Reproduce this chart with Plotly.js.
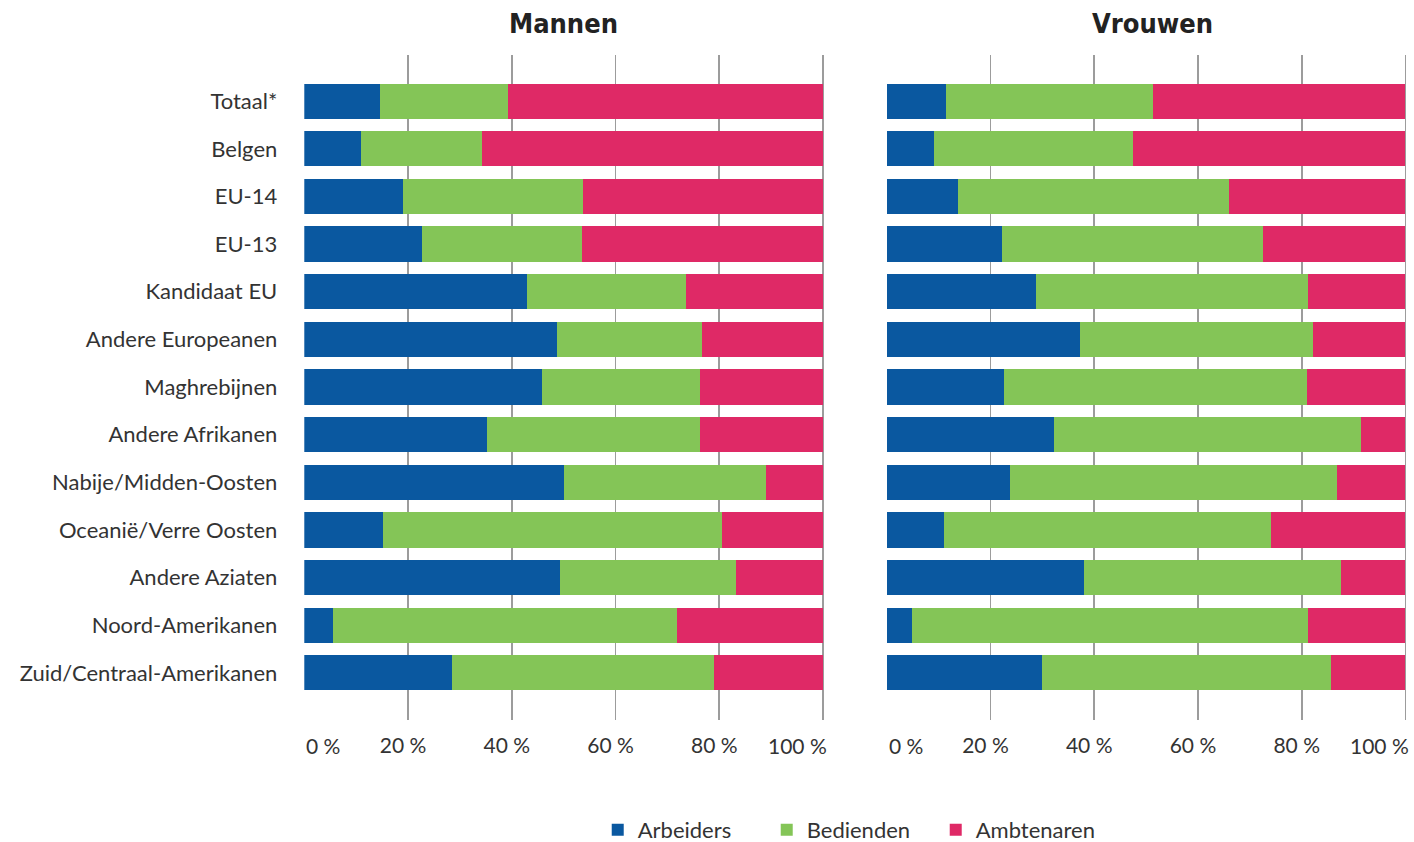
<!DOCTYPE html>
<html>
<head>
<meta charset="utf-8">
<script src="https://cdn.plot.ly/plotly-3.0.1.min.js"></script>
<style>html,body{margin:0;padding:0;background:#fff;}#chart{width:1414px;height:842px;}</style>
</head>
<body>
<div id="chart"></div>
<script>
const categories = ["Totaal*","Belgen","EU-14","EU-13","Kandidaat EU","Andere Europeanen","Maghrebijnen","Andere Afrikanen","Nabije/Midden-Oosten","Oceanië/Verre Oosten","Andere Aziaten","Noord-Amerikanen","Zuid/Centraal-Amerikanen"];
const seriesNames = ["Arbeiders","Bedienden","Ambtenaren"];

const mannenArbeiders  = [14.5, 11.0, 19.1, 22.6, 43.0, 48.8, 45.8, 35.3, 50.0, 15.2, 49.2, 5.6, 28.4];
const mannenBedienden  = [24.7, 23.2, 34.7, 30.9, 30.6, 27.8, 30.4, 40.9, 39.0, 65.3, 34.0, 66.3, 50.5];
const mannenAmbtenaren = [60.8, 65.8, 46.2, 46.5, 26.4, 23.4, 23.8, 23.8, 11.0, 19.5, 16.8, 28.1, 21.1];

const vrouwenArbeiders  = [11.5, 9.2, 13.8, 22.3, 28.8, 37.3, 22.7, 32.3, 23.8, 11.1, 38.1, 4.9, 30.0];
const vrouwenBedienden  = [39.8, 38.2, 52.1, 50.2, 52.5, 44.9, 58.3, 59.1, 63.0, 63.0, 49.4, 76.4, 55.6];
const vrouwenAmbtenaren = [48.7, 52.6, 34.1, 27.5, 18.7, 17.8, 19.0, 8.6, 13.2, 25.9, 12.5, 18.7, 14.4];

const tickVals = [0, 20, 40, 60, 80, 100];
const tickText = ["0 %", "20 %", "40 %", "60 %", "80 %", "100 %"];
const colors = ["#0A58A0", "#84C557", "#DF2966"];

const mannen = [mannenArbeiders, mannenBedienden, mannenAmbtenaren];
const vrouwen = [vrouwenArbeiders, vrouwenBedienden, vrouwenAmbtenaren];

const traces = [];
seriesNames.forEach((name, i) => {
  traces.push({
    type: 'bar', orientation: 'h', name: name, legendgroup: name,
    x: mannen[i], y: categories, xaxis: 'x', yaxis: 'y',
    marker: {color: colors[i], line: {width: 0}},
    hoverinfo: 'x+y+name', showlegend: true
  });
});
seriesNames.forEach((name, i) => {
  traces.push({
    type: 'bar', orientation: 'h', name: name, legendgroup: name,
    x: vrouwen[i], y: categories, xaxis: 'x2', yaxis: 'y2',
    marker: {color: colors[i], line: {width: 0}},
    hoverinfo: 'x+y+name', showlegend: false
  });
});

const baseFont = "Lato, 'Open Sans', 'DejaVu Sans', sans-serif";
const tickFont = {family: baseFont, size: 21, color: '#333333'};
// inner tick labels drawn by the axis; the two end labels are aligned to the panel edges
const innerText = tickText.map((t, i) => (i === 0 || i === tickText.length - 1) ? '' : t);
const xCommon = {
  range: [0, 100.5], tickvals: tickVals, ticktext: innerText,
  showgrid: true, gridcolor: '#9c9c9c', gridwidth: 1.6,
  zeroline: false, showline: false, ticks: '', fixedrange: true,
  tickfont: tickFont,
  ticklabelshift: -5, ticklabelstandoff: 11, ticklabeloverflow: 'allow',
  automargin: false
};
const yRange = [12.99, -0.97];
const labelY = 1 - 745 / 842;

const endLabels = [];
['x', 'x2'].forEach(ax => {
  endLabels.push({text: tickText[0], xref: ax, yref: 'paper', x: tickVals[0], y: labelY,
    xanchor: 'left', yanchor: 'middle', showarrow: false, font: tickFont});
  endLabels.push({text: tickText[tickText.length - 1], xref: ax, yref: 'paper',
    x: tickVals[tickVals.length - 1], y: labelY, xshift: 6,
    xanchor: 'right', yanchor: 'middle', showarrow: false, font: tickFont});
});

const titleFont = {family: "'Liberation Sans Narrow', 'DejaVu Sans Condensed', 'Open Sans', sans-serif", size: 27, color: '#222222'};

const layout = {
  width: 1414, height: 842,
  margin: {l: 0, r: 0, t: 0, b: 0, autoexpand: false},
  paper_bgcolor: '#ffffff', plot_bgcolor: '#ffffff',
  barmode: 'stack', bargap: 0.26,
  showlegend: true,
  legend: {
    orientation: 'h', x: 0.602, xanchor: 'center', y: 0.0143, yanchor: 'middle',
    font: {family: baseFont, size: 22, color: '#333333'},
    itemwidth: 30, entrywidth: 124, entrywidthmode: 'pixels',
    tracegroupgap: 0, traceorder: 'normal'
  },
  xaxis: Object.assign({}, xCommon, {domain: [0.2152, 0.5839], anchor: 'y'}),
  xaxis2: Object.assign({}, xCommon, {domain: [0.6271, 0.9958], anchor: 'y2'}),
  yaxis: {
    type: 'category', range: yRange, domain: [0.1449, 0.9347],
    showgrid: false, zeroline: false, showline: false, ticks: '',
    ticklabelstandoff: 26, automargin: false, fixedrange: true,
    tickfont: {family: baseFont, size: 22, color: '#333333'}, anchor: 'x'
  },
  yaxis2: {
    type: 'category', range: yRange, domain: [0.1449, 0.9347],
    showgrid: false, zeroline: false, showline: false, ticks: '',
    showticklabels: false, automargin: false, fixedrange: true, anchor: 'x2'
  },
  annotations: [
    {text: '<b>Mannen</b>', xref: 'paper', yref: 'paper', x: 0.3986, y: 1 - 24/842,
     xanchor: 'center', yanchor: 'middle', showarrow: false, font: titleFont},
    {text: '<b>Vrouwen</b>', xref: 'paper', yref: 'paper', x: 0.8154, y: 1 - 24/842,
     xanchor: 'center', yanchor: 'middle', showarrow: false, font: titleFont}
  ].concat(endLabels)
};

Plotly.newPlot('chart', traces, layout, {displayModeBar: false, staticPlot: true});
</script>
</body>
</html>
